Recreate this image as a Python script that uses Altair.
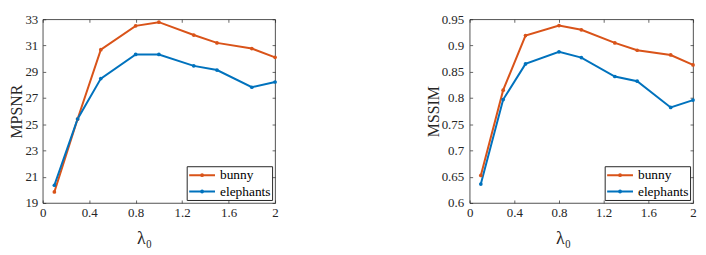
import altair as alt
import pandas as pd

lam = [0.1, 0.3, 0.5, 0.8, 1.0, 1.3, 1.5, 1.8, 2.0]
psnr_bunny = [19.84, 25.4, 30.68, 32.5, 32.78, 31.8, 31.2, 30.77, 30.1]
psnr_eleph = [20.35, 25.4, 28.48, 30.32, 30.32, 29.45, 29.13, 27.82, 28.22]
ssim_bunny = [0.6525, 0.815, 0.919, 0.938, 0.930, 0.905, 0.891, 0.882, 0.863]
ssim_eleph = [0.636, 0.797, 0.865, 0.888, 0.877, 0.841, 0.832, 0.782, 0.796]
series = ["bunny", "elephants"]
colors = ["#D95319", "#0072BD"]
x_ticks = [0, 0.4, 0.8, 1.2, 1.6, 2]
psnr_ticks = [19, 21, 23, 25, 27, 29, 31, 33]
ssim_ticks = [0.6, 0.65, 0.7, 0.75, 0.8, 0.85, 0.9, 0.95]

def make_df(b, e):
    rows = []
    for x, v in zip(lam, b):
        rows.append({"lam": x, "val": v, "series": "bunny"})
    for x, v in zip(lam, e):
        rows.append({"lam": x, "val": v, "series": "elephants"})
    return pd.DataFrame(rows)

INK = "#262626"
FONT = "Liberation Serif"
common = dict(grid=True, gridDash=[3, 1000], gridColor=INK, gridWidth=0.7,
              gridOpacity=1, ticks=False, domain=False, labelFlush=False)
# legend symbol: a 26px line with a dot in the middle
LEG_SYMBOL = "M-1,0H3M0.85,0A0.15,0.15,0,1,1,1.15,0A0.15,0.15,0,1,1,0.85,0"

def panel(df, ytitle, ydomain, yticks, w, h, lab_pad, title_pad, xtitle_x):
    base = alt.Chart(df)
    xs = alt.Scale(domain=[0, 2], nice=False)
    ys = alt.Scale(domain=ydomain, nice=False, zero=False)
    cs = alt.Scale(domain=series, range=colors)
    lines = base.mark_line(strokeWidth=2).encode(
        x=alt.X("lam:Q", scale=xs, axis=alt.Axis(values=x_ticks, format="~g", title="λ₀",
                                                 orient="bottom", labelPadding=3.5, titlePadding=10.5,
                                                 titleFontSize=18, labelFont=FONT, titleFont=FONT,
                                                 titleX=xtitle_x, titleAlign="center",
                                                 **common)),
        y=alt.Y("val:Q", scale=ys, axis=alt.Axis(values=yticks, format="~g", title=ytitle,
                                                 orient="left", labelPadding=lab_pad,
                                                 titlePadding=title_pad,
                                                 titleFontSize=16, labelFont=FONT, titleFont=FONT,
                                                 **common)),
        color=alt.Color("series:N", scale=cs, legend=alt.Legend(
            title=None, orient="bottom-right", offset=3, fillColor="white",
            strokeColor=INK, padding=1.5, symbolType=LEG_SYMBOL, symbolSize=169,
            symbolStrokeWidth=2, labelFontSize=13.5, labelOffset=17, rowPadding=2.5,
            labelFont=FONT, labelColor="#000000", labelExpr="datum.label + '  '")),
    )
    pts = base.mark_point(filled=True, size=14, opacity=1).encode(
        x=alt.X("lam:Q", scale=xs, axis=alt.Axis(values=x_ticks, labels=False, title=None,
                                                 orient="top", **common)),
        y=alt.Y("val:Q", scale=ys, axis=alt.Axis(values=yticks, labels=False, title=None,
                                                 orient="right", **common)),
        color=alt.Color("series:N", scale=cs, legend=None),
    )
    return alt.layer(lines, pts).resolve_axis(x="independent", y="independent").properties(
        width=w, height=h)

left = panel(make_df(psnr_bunny, psnr_eleph), "MPSNR", [19, 33], psnr_ticks, 234, 185, 5, 0, 102)
right = panel(make_df(ssim_bunny, ssim_eleph), "MSSIM", [0.6, 0.95], ssim_ticks, 225, 185, 6, 0, 94)

chart = alt.hconcat(left, right, spacing=145).resolve_scale(color="independent").resolve_legend(
    color="independent").properties(
    padding={"left": 0, "top": 3.5, "right": 0, "bottom": 0},
    background="white",
).configure(font=FONT).configure_view(stroke=INK, strokeWidth=0.8).configure_axis(
    labelFont=FONT, titleFont=FONT, labelFontSize=13,
    labelColor=INK, titleColor=INK, titleFontWeight="normal",
).configure_legend(labelFont=FONT)

chart.save("out.html", embed_options={"renderer": "svg", "actions": False})
